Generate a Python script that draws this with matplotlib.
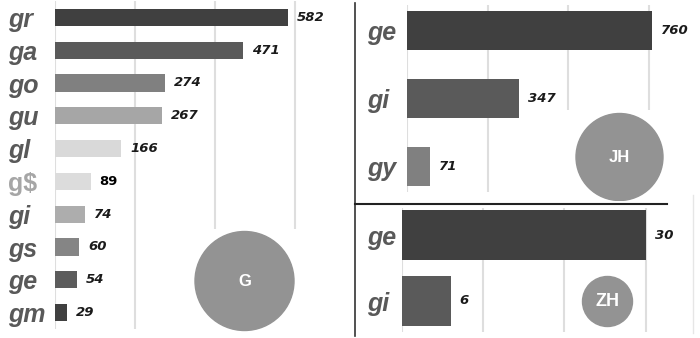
import matplotlib
matplotlib.use("Agg")
import matplotlib.pyplot as plt
from matplotlib.patches import Circle
from matplotlib.lines import Line2D

W, H = 700, 338

# ---- data ----
g_cats = ["gr", "ga", "go", "gu", "gl", "g$", "gi", "gs", "ge", "gm"]
g_vals = [582, 471, 274, 267, 166, 89, 74, 60, 54, 29]
g_colors = ["#404040", "#5a5a5a", "#808080", "#a6a6a6", "#d9d9d9",
            "#dcdcdc", "#adadad", "#858585", "#5c5c5c", "#404040"]
g_ticks = [0, 200, 400, 600]

jh_cats = ["ge", "gi", "gy"]
jh_vals = [760, 347, 71]
jh_colors = ["#404040", "#5a5a5a", "#808080"]
jh_ticks = [0, 250, 500, 750]

zh_cats = ["ge", "gi"]
zh_vals = [30, 6]
zh_colors = ["#404040", "#5a5a5a"]
zh_ticks = [0, 10, 20, 30]

badges = ["G", "JH", "ZH"]


def box(x0, y0, x1, y1):
    return [x0 / W, 1 - y1 / H, (x1 - x0) / W, (y1 - y0) / H]


fig = plt.figure(figsize=(W / 100, H / 100), dpi=100)

VAL = dict(family="DejaVu Sans", weight="bold", style="italic", size=9.5, color="#1a1a1a")


def panel(rect, cats, vals, colors, ticks, xlim, ylim, height, label_pad_px, special=None):
    ax = fig.add_axes(rect)
    y = list(range(len(cats)))
    ax.barh(y, vals, height=height, color=colors, zorder=3)
    ax.set_xlim(*xlim)
    ax.set_ylim(*ylim)
    ax.set_xticks(ticks)
    ax.set_xticklabels([])
    ax.tick_params(axis="x", length=0)
    ax.grid(axis="x", color="#dedede", linewidth=1.5, zorder=0)
    for s in ax.spines.values():
        s.set_visible(False)
    ax.set_yticks(y, labels=cats)
    ax.tick_params(axis="y", length=0, pad=label_pad_px * 72 / 100)
    for i, t in enumerate(ax.get_yticklabels()):
        t.set_fontfamily("Liberation Sans")
        t.set_fontsize(18)
        t.set_fontweight("bold")
        t.set_horizontalalignment("left")
        if special is not None and cats[i] == special:
            t.set_color("#a6a6a6")
            t.set_fontstyle("normal")
        else:
            t.set_color("#595959")
            t.set_fontstyle("italic")
    for i, v in enumerate(vals):
        kw = dict(VAL)
        if special is not None and cats[i] == special:
            kw["style"] = "normal"
            kw["color"] = "#000000"
        ax.annotate(str(v), (v, i), xytext=(6.5, 0), textcoords="offset points",
                    va="center", ha="left", **kw)
    return ax


panel(box(55, 1, 315, 329), g_cats, g_vals, g_colors, g_ticks,
      (0, 650), (9.5, -0.5), 0.52, 47, special="g$")
panel(box(407, 5, 665, 192), jh_cats, jh_vals, jh_colors, jh_ticks,
      (0, 800), (2.37, -0.38), 0.57, 40)
panel(box(402, 208, 666, 332), zh_cats, zh_vals, zh_colors, zh_ticks,
      (0, 32.5), (1.47, -0.41), 0.77, 35)


def badge(bx, cx, cy, r, text, size, color="#939393"):
    x0, y0, x1, y1 = bx
    a = fig.add_axes(box(x0, y0, x1, y1))
    a.set_xlim(x0, x1)
    a.set_ylim(y1, y0)
    a.set_facecolor("white")
    a.set_zorder(5)
    for s in a.spines.values():
        s.set_visible(False)
    a.set_xticks([])
    a.set_yticks([])
    a.add_patch(Circle((cx, cy), r, color=color))
    a.text(cx, cy, text, ha="center", va="center", color="white",
           fontsize=size, fontweight="bold", family="Liberation Sans")


badge((190, 229, 302, 338), 244.5, 281, 49.5, badges[0], 12)
badge((560, 110, 672, 201), 619.5, 157, 43.5, badges[1], 12)
badge((578, 272, 637, 331), 607.5, 301.5, 25, badges[2], 13)

# separators
fig.add_artist(Line2D([355 / W, 355 / W], [1 - 3 / H, 1 - 336 / H],
                      color="#333333", linewidth=1.2))
fig.add_artist(Line2D([355 / W, 667 / W], [1 - 204 / H, 1 - 204 / H],
                      color="#222222", linewidth=1.5))
fig.add_artist(Line2D([693 / W, 693 / W], [1 - 195 / H, 1 - 333 / H],
                      color="#e6e6e6", linewidth=1.0))

fig.savefig("out.png", dpi=100)
